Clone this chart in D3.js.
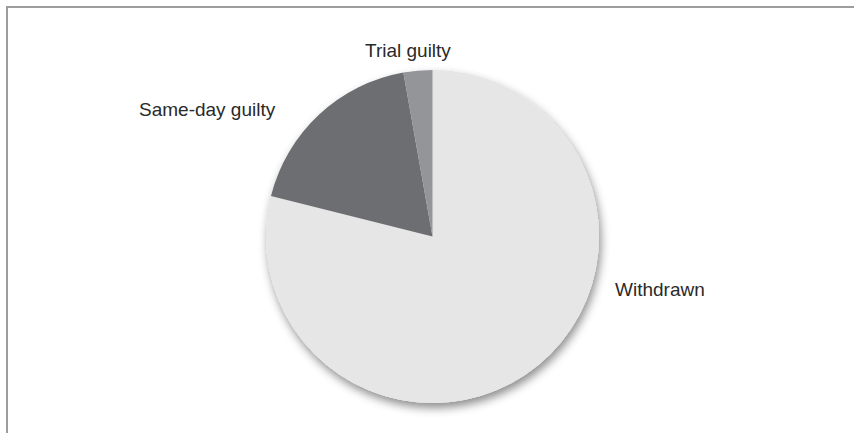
<!DOCTYPE html>
<html>
<head>
<meta charset="utf-8">
<script src="https://cdn.jsdelivr.net/npm/d3@7"></script>
<style>
  html, body { margin: 0; padding: 0; background: #fff; }
  svg { display: block; }
</style>
</head>
<body>
<svg id="chart" width="855" height="433"></svg>
<script>
const categories = ["Withdrawn", "Same-day guilty", "Trial guilty"];
const values = [78.9, 18.3, 2.8];
const colors = ["#e6e6e7", "#6d6e71", "#939598"];

const W = 855, H = 433;
const cx = 432.5, cy = 236.5, R = 166.5;
// label anchor positions (layout)
const labelPos = {
  "Withdrawn": [615, 296],
  "Same-day guilty": [139, 116],
  "Trial guilty": [365, 57]
};

const svg = d3.select("#chart");
const defs = svg.append("defs");
const f = defs.append("filter").attr("id", "shadow")
  .attr("x", "-20%").attr("y", "-20%").attr("width", "140%").attr("height", "140%");
f.append("feDropShadow").attr("dx", 2).attr("dy", 5).attr("stdDeviation", 5)
  .attr("flood-color", "#000").attr("flood-opacity", 0.45);

// frame
svg.append("line").attr("x1", 6).attr("x2", 854).attr("y1", 7).attr("y2", 7)
  .attr("stroke", "#9d9d9d").attr("stroke-width", 2);
svg.append("line").attr("x1", 7).attr("x2", 7).attr("y1", 6).attr("y2", H)
  .attr("stroke", "#9d9d9d").attr("stroke-width", 2);

const data = categories.map((c, i) => ({ cat: c, value: values[i], color: colors[i] }));
const pie = d3.pie().value(d => d.value).sort(null).startAngle(0).endAngle(2 * Math.PI);
const arc = d3.arc().innerRadius(0).outerRadius(R);

const g = svg.append("g").attr("transform", `translate(${cx},${cy})`);
g.append("circle").attr("r", R).attr("fill", "#e6e6e7").attr("filter", "url(#shadow)");
g.selectAll("path").data(pie(data)).join("path")
  .attr("d", arc)
  .attr("fill", d => d.data.color);

svg.selectAll("text.lbl").data(data).join("text")
  .attr("class", "lbl")
  .attr("x", d => labelPos[d.cat][0])
  .attr("y", d => labelPos[d.cat][1])
  .attr("font-family", "'Liberation Sans', Arial, sans-serif")
  .attr("font-size", 19)
  .attr("fill", "#2a2a2a")
  .text(d => d.cat);
</script>
</body>
</html>
